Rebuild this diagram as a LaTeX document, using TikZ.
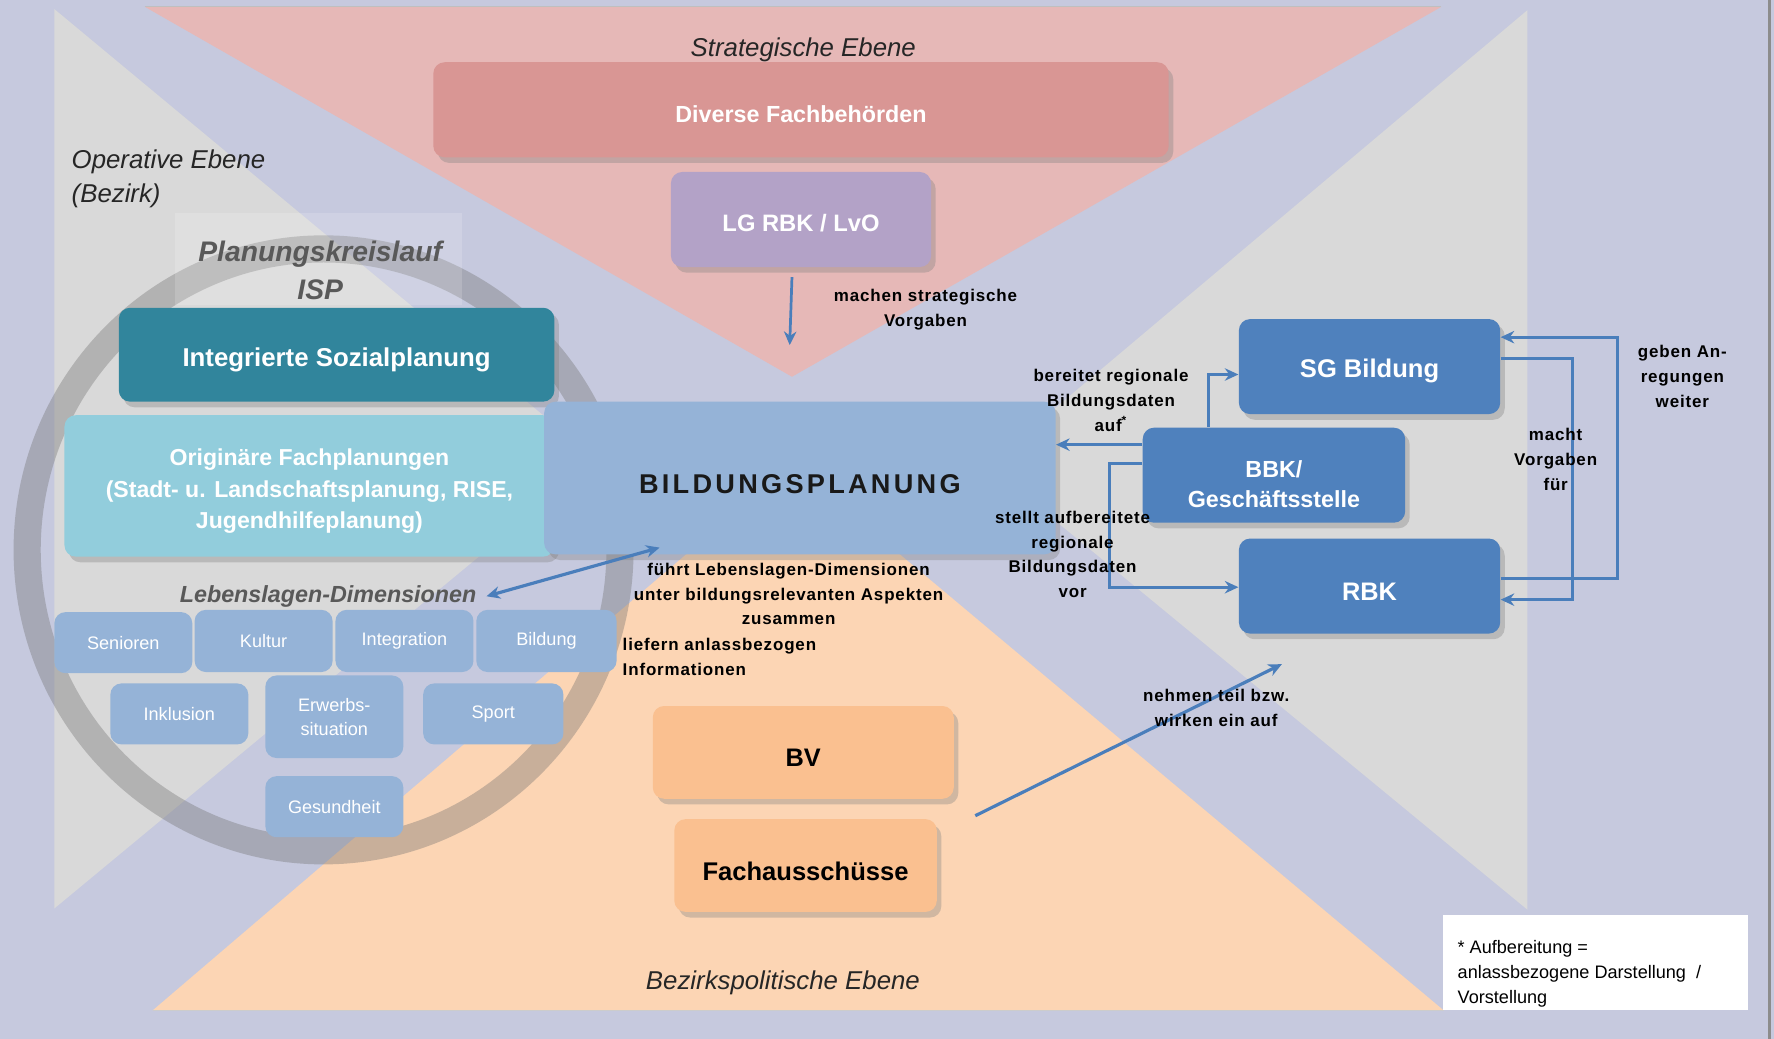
\documentclass[tikz,border=0pt]{standalone}
\usepackage{fontspec}
\setmainfont{Liberation Sans}
\newfontfamily\lblfont[LetterSpace=5]{Liberation Sans}
\newfontfamily\bpfont[LetterSpace=12]{Liberation Sans}
\usetikzlibrary{shadows,arrows.meta}
\definecolor{cBg}{HTML}{C6C9DE}
\definecolor{cPink}{HTML}{E6B8B7}
\definecolor{cGrayT}{HTML}{D9D9D9}
\definecolor{cPeach}{HTML}{FCD5B4}
\definecolor{cDiv}{HTML}{D99694}
\definecolor{cLG}{HTML}{B3A2C7}
\definecolor{cTeal}{HTML}{31859C}
\definecolor{cCyan}{HTML}{92CDDC}
\definecolor{cBP}{HTML}{95B3D7}
\definecolor{cBlue}{HTML}{4F81BD}
\definecolor{cOr}{HTML}{FAC090}
\definecolor{cRing}{HTML}{6E6E6E}
\definecolor{cTitle}{HTML}{595959}
\definecolor{cArr}{HTML}{4A7EBB}
\begin{document}
\begin{tikzpicture}[x=0.5pt,y=-0.5pt,
  box/.style={rounded corners=5pt, inner sep=0pt,
    drop shadow={shadow xshift=2pt, shadow yshift=-2.5pt, opacity=0.35}},
  boxtxt/.style={inner sep=0pt, align=center},
  small/.style={rounded corners=5pt, inner sep=1pt, align=center, fill=cBP,
    text=white, font=\fontsize{8}{10.5}\selectfont, minimum width=61pt},
  lbl/.style={align=center, font=\lblfont\bfseries\fontsize{7.5}{11}\selectfont, inner sep=0pt},
  arr/.style={draw=cArr, line width=1.4pt, -{Stealth[length=6pt,width=5.5pt]}},
  title/.style={font=\itshape\fontsize{11.4}{15}\selectfont, text=black!85, inner sep=0pt}
]
\useasboundingbox (0,0) rectangle (1568,918);
\fill[cBg] (0,0) rectangle (1568,918);
\draw[black!45, line width=1.5pt] (1564,0) -- (1564,918);
% triangles
\fill[cPink] (128,6) -- (1274,6) -- (700,333) -- cycle;
\draw[black!25, line width=0.6pt] (128,6) -- (1274,6);
\fill[cGrayT] (48,8) -- (527,406) -- (48,803) -- cycle;
\fill[cGrayT] (1350,9) -- (873,411) -- (1350,804) -- cycle;
\fill[cPeach] (135,893) -- (700,410) -- (1276,893) -- cycle;
\draw[black!20, line width=0.6pt] (135,893) -- (1276,893);
% ring
\draw[cRing, line width=12pt, opacity=0.36] (286,486) ellipse [x radius=262, y radius=266];
% Planungskreislauf backing
\fill[white, opacity=0.16] (155,188) rectangle (408,270);
\node[font=\bfseries\itshape\fontsize{12.5}{16.5}\selectfont, text=cTitle, align=center, inner sep=0pt] (plk) at (283,239) {Planungskreislauf\\ISP};

% titles
\node[title] (strat) at (710,44) {Strategische Ebene};
\node[title, align=left, anchor=west] (oper) at (63,158) {Operative Ebene\\(Bezirk)};
\node[title] (bezp) at (692,869) {Bezirkspolitische Ebene};

% top boxes
\node[box, fill=cDiv, minimum width=325pt, minimum height=42pt] (div) at (708,97) {};
\node[boxtxt, text=white, font=\bfseries\fontsize{10.3}{12}\selectfont] (div-t) at ([yshift=-2pt]div.center) {Diverse Fachbehörden};
\node[box, fill=cLG, minimum width=115pt, minimum height=42pt] (lg) at (708,194) {};
\node[boxtxt, text=white, font=\bfseries\fontsize{10.5}{12}\selectfont] (lg-t) at ([yshift=-1.5pt]lg.center) {LG RBK / LvO};
\coordinate (lgend) at (698,305);
\draw[arr, line width=1.2pt] (700,245) -- (lgend);
\node[lbl] (mach) at (818,274) {machen strategische\\Vorgaben};

% left boxes
\node[box, fill=cTeal, minimum width=192.5pt, minimum height=41.5pt] (isp) at (297.5,313.5) {};
\node[boxtxt, text=white, font=\bfseries\fontsize{11.4}{13}\selectfont] (isp-t) at ([yshift=-2.3pt]isp.center) {Integrierte Sozialplanung};
\node[box, fill=cCyan, minimum width=216.5pt, minimum height=62.5pt] (orig) at (273.5,429.5) {};
\node[boxtxt, text=white, font=\bfseries\fontsize{10.2}{13.75}\selectfont] (orig-t) at ([yshift=-2.3pt]orig.center)
  {Originäre Fachplanungen\\(Stadt- u. Landschaftsplanung, RISE,\\Jugendhilfeplanung)};
\node[box, fill=cBP, minimum width=226pt, minimum height=67.5pt] (bp) at (707,422.5) {};
\node[boxtxt, text=black!90, font=\bpfont\bfseries\fontsize{12}{14}\selectfont] (bp-t) at ([yshift=-2.8pt]bp.center) {BILDUNGSPLANUNG};

% Lebenslagen
\node[font=\bfseries\itshape\fontsize{10.3}{12}\selectfont, text=cTitle, inner sep=0pt] (leb) at (290,527) {Lebenslagen-Dimensionen};
\node[small, minimum height=27pt] (sen) at (109,568) {Senioren};
\node[small, minimum height=27.5pt] (kul) at (233,566.5) {Kultur};
\node[small, minimum height=27.5pt] (int) at (357.5,566.5) {Integration};
\node[small, minimum height=27.5pt, minimum width=62pt] (bil) at (483,566.5) {Bildung};
\node[small, minimum height=27pt] (ink) at (158.5,631) {Inklusion};
\node[small, minimum height=36.5pt] (erw) at (295.5,633.5) {Erwerbs-\\situation};
\node[small, minimum height=27pt, minimum width=62pt] (spo) at (436,631) {Sport};
\node[small, minimum height=27pt] (ges) at (295.5,713) {Gesundheit};

\coordinate (lebR) at (430,527);
\coordinate (bpL) at (583,484);
\draw[arr, {Stealth[length=6pt,width=5.5pt]}-{Stealth[length=6pt,width=5.5pt]}] (lebR) -- (bpL);
\node[lbl] (fue) at (697,525) {führt Lebenslagen-Dimensionen\\unter bildungsrelevanten Aspekten\\zusammen};
\node[lbl, align=left, anchor=west] (lie) at (550,581) {liefern anlassbezogen\\Informationen};

% bottom boxes
\node[box, fill=cOr, minimum width=133pt, minimum height=41pt] (bv) at (710,665) {};
\node[boxtxt, text=black, font=\bfseries\fontsize{11.2}{13}\selectfont] (bv-t) at ([yshift=-2.5pt]bv.center) {BV};
\node[box, fill=cOr, minimum width=116pt, minimum height=41pt] (fa) at (712,765) {};
\node[boxtxt, text=black, font=\bfseries\fontsize{11.3}{13}\selectfont] (fa-t) at ([yshift=-2.5pt]fa.center) {Fachausschüsse};
\coordinate (faS) at (862,721);
\coordinate (rbkT) at (1133,587);
\draw[arr] (faS) -- (rbkT);
\node[lbl] (neh) at (1075,626) {nehmen teil bzw.\\wirken ein auf};

% right boxes
\node[box, fill=cBlue, minimum width=115.5pt, minimum height=42pt] (sg) at (1210.5,324) {};
\node[boxtxt, text=white, font=\bfseries\fontsize{11.3}{13}\selectfont] (sg-t) at ([yshift=-2pt]sg.center) {SG Bildung};
\node[box, fill=cBlue, minimum width=116pt, minimum height=42pt] (bbk) at (1126,420) {};
\node[boxtxt, text=white, font=\bfseries\fontsize{10.3}{13.5}\selectfont] (bbk-t) at ([yshift=-4pt]bbk.center) {BBK/\\Geschäftsstelle};
\node[box, fill=cBlue, minimum width=115.5pt, minimum height=42pt] (rbk) at (1210.5,518) {};
\node[boxtxt, text=white, font=\bfseries\fontsize{11.2}{13}\selectfont] (rbk-t) at ([yshift=-2.5pt]rbk.center) {RBK};

\draw[arr] (bbk.west |- 0,393) -- (bp.east |- 0,393);
\draw[arr] (1068,0 |- bbk.north) |- (sg.west |- 0,331);
\draw[arr] (bbk.west |- 0,410) -- (981,410) |- (rbk.west |- 0,519);
\draw[arr] (rbk.east |- 0,511) -- (1430,511) |- (sg.east |- 0,298);
\draw[arr] (sg.east |- 0,317) -- (1390,317) |- (rbk.east |- 0,530);

\node[lbl] (ber) at (982,354) {bereitet regionale\\Bildungsdaten\\auf\textsuperscript{*}};
\node[lbl] (ste) at (948,490) {stellt aufbereitete\\regionale\\Bildungsdaten\\vor};
\node[lbl] (mac) at (1375,406) {macht\\Vorgaben\\für};
\node[lbl] (geb) at (1487,333) {geben An-\\regungen\\weiter};

% footnote
\node[fill=white, minimum width=135pt, minimum height=42pt, inner sep=0pt] (foot) at (1410,851) {};
\node[align=left, anchor=west, inner sep=0pt, font=\fontsize{8}{11}\selectfont] (foottxt) at (1288,861)
  {* Aufbereitung =\\anlassbezogene Darstellung~~/\\Vorstellung};
\end{tikzpicture}
\end{document}
